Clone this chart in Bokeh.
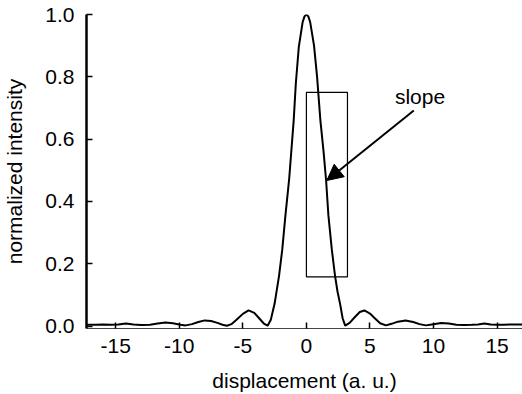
from bokeh.plotting import figure
from bokeh.models import Range1d, FixedTicker, Arrow, NormalHead, Label, CustomJSTickFormatter
from bokeh.embed import file_html
from bokeh.resources import INLINE

# data
displacement = [-17.3, -16.6, -16.0, -15.4, -14.8, -14.2, -13.6, -13.0, -12.3, -11.7,
                -11.1, -10.5, -9.9, -9.5, -9.0, -8.5, -8.0, -7.5, -7.0, -6.6,
                -6.25, -5.9, -5.5, -5.0, -4.55, -4.1, -3.7, -3.35, -3.05, -2.8,
                -2.5, -2.15, -1.9, -1.65, -1.35, -1.0, -0.83, -0.6, -0.3, -0.15,
                0.0, 0.15, 0.3, 0.6, 0.84, 1.1, 1.35, 1.55, 1.73, 2.0,
                2.25, 2.45, 2.65, 2.85, 3.05, 3.4, 3.8, 4.2, 4.56, 5.0,
                5.4, 5.8, 6.26, 6.7, 7.2, 7.8, 8.4, 8.9, 9.4, 10.0,
                10.6, 11.2, 11.8, 12.4, 13.0, 13.5, 14.0, 14.5, 15.0, 15.5,
                16.2, 17.0]
intensity = [0.004, 0.004, 0.005, 0.004, 0.005, 0.008, 0.005, 0.003, 0.004, 0.008,
             0.011, 0.009, 0.004, 0.002, 0.006, 0.013, 0.018, 0.016, 0.010, 0.004,
             0.001, 0.006, 0.020, 0.039, 0.050, 0.042, 0.024, 0.008, 0.001, 0.020,
             0.072, 0.162, 0.245, 0.355, 0.475, 0.66, 0.78, 0.895, 0.975, 0.994,
             1.0, 0.994, 0.975, 0.90, 0.80, 0.66, 0.56, 0.467, 0.355, 0.245,
             0.162, 0.11, 0.071, 0.025, 0.001, 0.010, 0.028, 0.045, 0.050, 0.040,
             0.024, 0.009, 0.002, 0.007, 0.014, 0.018, 0.013, 0.006, 0.002, 0.006,
             0.010, 0.008, 0.004, 0.003, 0.004, 0.005, 0.008, 0.005, 0.004, 0.004,
             0.005, 0.005]

x_ticks = [-15, -10, -5, 0, 5, 10, 15]
y_ticks = [0.0, 0.2, 0.4, 0.6, 0.8, 1.0]
x_title = "displacement (a. u.)"
y_title = "normalized intensity"

box_x = [0.0, 3.23]
box_y = [0.158, 0.75]
arrow_start = [8.45, 0.692]
arrow_end = [1.6, 0.467]
note_pos = [8.94, 0.737]
note_text = "slope"

FONT = "Liberation Sans"
FS = "21px"

p = figure(width=522, height=394, output_backend="svg", toolbar_location=None,
           x_range=Range1d(-17.3, 17.0), y_range=Range1d(-0.008, 1.0),
           min_border_left=84, min_border_right=0, min_border_top=14, min_border_bottom=66)
p.outline_line_color = None
p.xgrid.visible = False
p.ygrid.visible = False
p.background_fill_color = "white"
p.border_fill_color = "white"

p.line(displacement, intensity, line_color="black", line_width=2)

p.quad(left=box_x[0], right=box_x[1], bottom=box_y[0], top=box_y[1],
       fill_color=None, line_color="black", line_width=1.2)

p.add_layout(Arrow(end=NormalHead(size=16, fill_color="black", line_color="black"),
                   x_start=arrow_start[0], y_start=arrow_start[1],
                   x_end=arrow_end[0], y_end=arrow_end[1],
                   line_color="black", line_width=2))

p.add_layout(Label(x=note_pos[0], y=note_pos[1], text=note_text, text_align="center",
                   text_baseline="alphabetic", text_font=FONT, text_font_size=FS,
                   text_color="black"))

p.xaxis.ticker = FixedTicker(ticks=x_ticks)
p.yaxis.ticker = FixedTicker(ticks=y_ticks)
p.xaxis.formatter = CustomJSTickFormatter(code="return tick.toString();")
p.yaxis.formatter = CustomJSTickFormatter(code="return tick.toFixed(1);")
p.xaxis.axis_label = x_title
p.yaxis.axis_label = y_title

for ax in (p.xaxis[0], p.yaxis[0]):
    ax.major_label_text_font = FONT
    ax.major_label_text_font_size = FS
    ax.major_label_text_color = "black"
    ax.axis_label_text_font = FONT
    ax.axis_label_text_font_size = FS
    ax.axis_label_text_font_style = "normal"
    ax.axis_label_text_color = "black"
    ax.minor_tick_line_color = None
    ax.major_tick_in = 6
    ax.major_tick_out = 0
    ax.major_tick_line_color = "black"

p.yaxis.axis_line_width = 2.5
p.yaxis.major_tick_line_width = 1.5
p.yaxis.major_label_standoff = 12
p.yaxis.axis_label_standoff = 16
p.xaxis.axis_line_color = "#444444"
p.xaxis.axis_line_width = 1.2
p.xaxis.major_tick_line_width = 1.5
p.xaxis.major_label_standoff = 10
p.xaxis.axis_label_standoff = 13
p.xaxis.axis_label_text_line_height = 0.8
p.xaxis.major_label_text_line_height = 0.9

open("out.html", "w").write(file_html(p, INLINE))
